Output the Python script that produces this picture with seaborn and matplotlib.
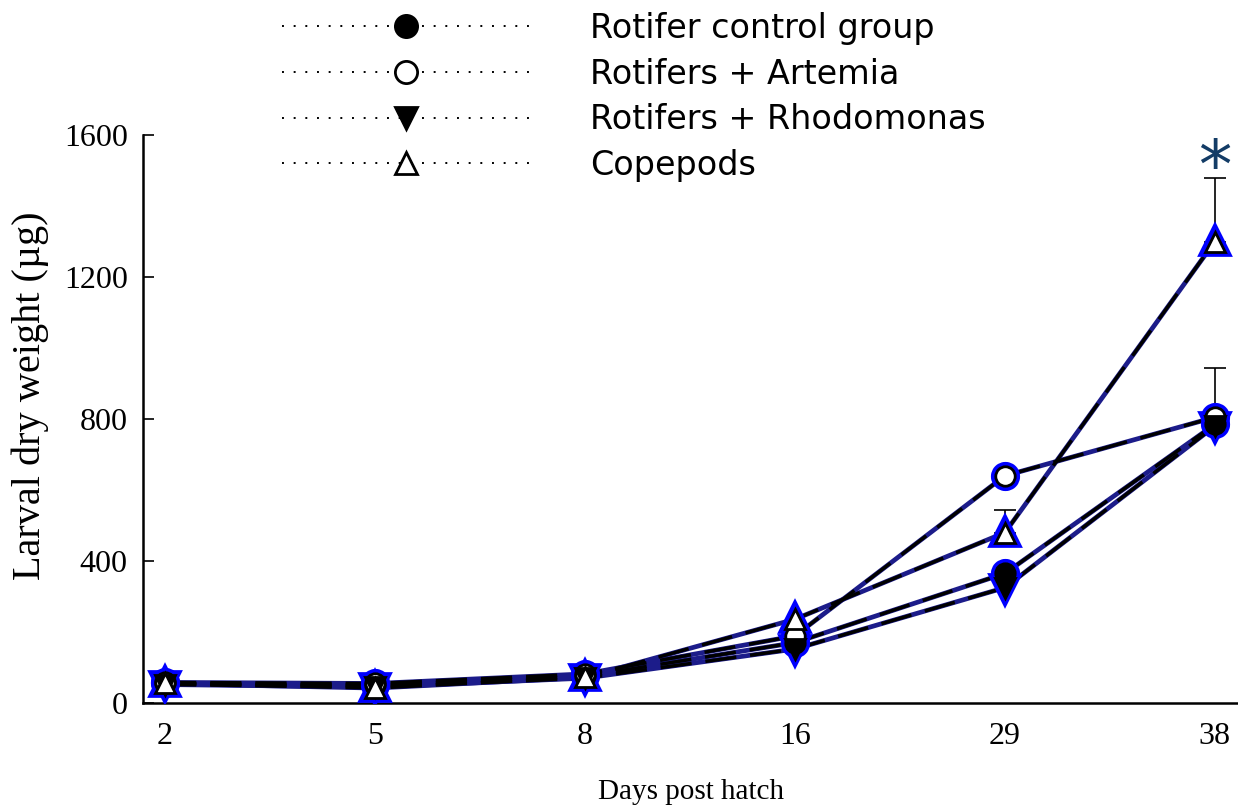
import numpy as np
import pandas as pd
import matplotlib
matplotlib.use("Agg")
import matplotlib.pyplot as plt
from matplotlib.lines import Line2D
import seaborn as sns

# Sampling days and mean larval dry weight (µg) per feeding treatment
days = ["2", "5", "8", "16", "29", "38"]
series_names = ["Rotifer control group", "Rotifers + Artemia",
                "Rotifers + Rhodomonas", "Copepods"]
control = [55, 50, 75, 170, 365, 785]
artemia = [58, 55, 82, 189, 640, 805]
rhodomonas = [52, 45, 70, 152, 325, 780]
copepods = [55, 42, 72, 236, 480, 1300]

# Upper standard errors shown as one-sided bars
err_series = ["Rotifers + Artemia", "Copepods", "Copepods"]
err_days = ["38", "29", "38"]
err_upper = [140, 63, 180]

y_ticks = [0, 400, 800, 1200, 1600]

values = {
    "Rotifer control group": control,
    "Rotifers + Artemia": artemia,
    "Rotifers + Rhodomonas": rhodomonas,
    "Copepods": copepods,
}
styles = {
    "Rotifer control group": dict(marker="o", mfc="black", ms=14),
    "Rotifers + Artemia": dict(marker="o", mfc="white", ms=14),
    "Rotifers + Rhodomonas": dict(marker="v", mfc="black", ms=14),
    "Copepods": dict(marker="^", mfc="white", ms=14),
}

df = pd.DataFrame({"day": days, "pos": np.arange(len(days))})
for name in series_names:
    df[name] = values[name]

sns.set_theme(style="white")
plt.rcParams["font.family"] = ["Liberation Serif", "DejaVu Serif"]
plt.rcParams["text.color"] = "black"
plt.rcParams["axes.labelcolor"] = "black"
plt.rcParams["xtick.color"] = "black"
plt.rcParams["ytick.color"] = "black"

fig = plt.figure(figsize=(12.38, 8.11), dpi=100)
ax = fig.add_axes([143 / 1238, 1 - 703 / 811, 1 - 143 / 1238, (703 - 135) / 811])

for name in series_names:
    # navy under-stroke and black dashed over-stroke
    sns.lineplot(data=df, x="pos", y=name, ax=ax, color="#1c1c8a", lw=3.4,
                 zorder=2, legend=False)
    sns.lineplot(data=df, x="pos", y=name, ax=ax, color="black", lw=2.5,
                 zorder=2.1, legend=False, linestyle=(0, (9, 4)))

for name in series_names:
    st = styles[name]
    # blue halo behind each marker
    sns.lineplot(data=df, x="pos", y=name, ax=ax, color="blue", lw=0,
                 marker=st["marker"], ms=st["ms"], mfc="blue", mec="blue",
                 mew=7, zorder=3, legend=False)
    sns.lineplot(data=df, x="pos", y=name, ax=ax, color="black", lw=0,
                 marker=st["marker"], ms=st["ms"], mfc=st["mfc"], mec="black",
                 mew=2, zorder=3.2, legend=False)

# one-sided error bars
for s, d, e in zip(err_series, err_days, err_upper):
    i = days.index(d)
    yv = values[s][i]
    ax.errorbar([i], [yv], yerr=[[0], [e]], fmt="none", ecolor="black",
                elinewidth=1.2, capsize=8, capthick=1.2, zorder=1.5)

# significance marker above the copepod group at day 38
i38 = days.index("38")
ax.text(i38, 1412, "*", ha="center", va="bottom",
        fontsize=48, color="#133c66", family="DejaVu Sans")

ax.set_xlim(-0.105, 5.11)
ax.set_ylim(0, 1600)
ax.set_xticks(np.arange(len(days)))
ax.set_xticklabels(days)
ax.set_yticks(y_ticks)
ax.set_yticklabels([str(v) for v in y_ticks])
ax.tick_params(axis="x", length=0, labelsize=23, pad=14)
ax.tick_params(axis="y", direction="in", length=8, width=1.2, left=True,
               labelsize=23, pad=11)
ax.set_xlabel("Days post hatch", fontsize=21, va="center")
ax.xaxis.set_label_coords(0.5, (703 - 792) / 568)
ax.set_ylabel("Larval dry weight (µg)", fontsize=29, va="center")
ax.yaxis.set_label_coords((30 - 143) / 1095, (703 - 396) / 568)
for side in ["top", "right"]:
    ax.spines[side].set_visible(False)
for side in ["left", "bottom"]:
    ax.spines[side].set_color("black")
    ax.spines[side].set_linewidth(1.8)
ax.grid(False)

handles = []
for name in series_names:
    st = styles[name]
    handles.append(Line2D([0], [0], color="black", lw=1.4,
                          linestyle=(0, (1, 5)), marker=st["marker"],
                          ms=16, mfc=st["mfc"], mec="black", mew=2))
fig.legend(handles, series_names, loc="upper left",
           bbox_to_anchor=(282 / 1238, 1 - 12 / 811), frameon=False,
           borderpad=0, borderaxespad=0, handlelength=7.45,
           handletextpad=1.8, labelspacing=0.38,
           prop={"family": "DejaVu Sans", "size": 24})

fig.savefig("out.png", dpi=100)
